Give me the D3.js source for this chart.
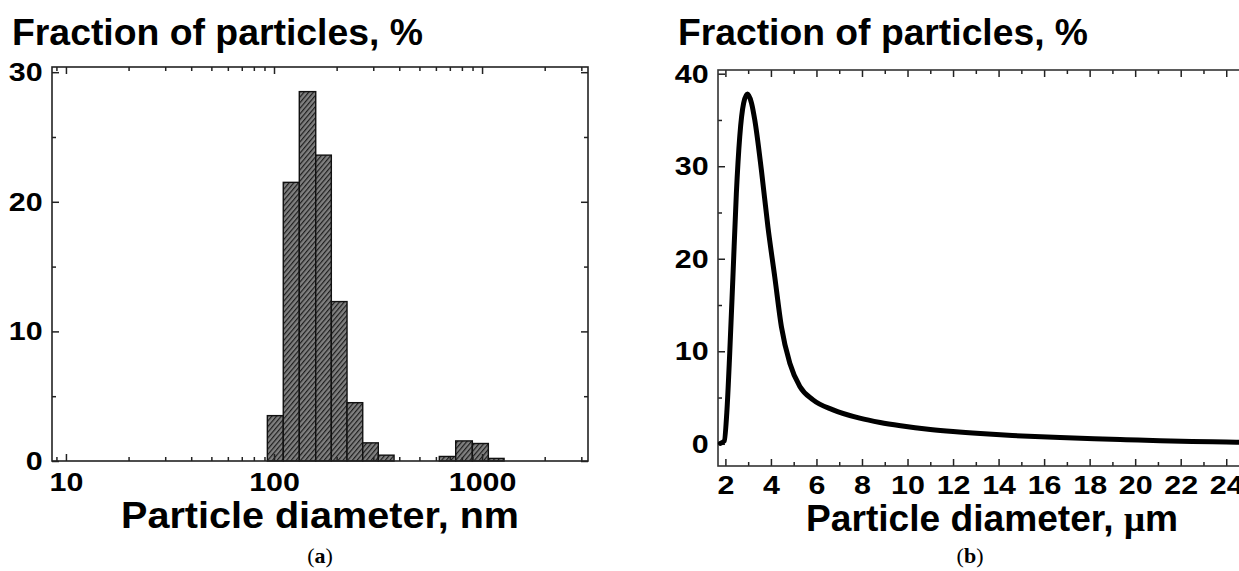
<!DOCTYPE html>
<html>
<head>
<meta charset="utf-8">
<script src="https://cdn.jsdelivr.net/npm/d3@7"></script>
<style>
  body { margin: 0; background: #fff; }
  svg { display: block; }
</style>
</head>
<body>
<div id="chart"></div>
<script>
// (a) histogram, bins in nm
const binStart  = [92.9, 110.8, 132.3, 158.7, 188.6, 224.4, 267.0, 317.2, 526, 623, 747, 898, 1072, 1276];
const binEnd    = [110.8, 132.3, 158.7, 188.6, 224.4, 267.0, 317.2, 377.6, 623, 747, 898, 1072, 1276, 1523];
const fractionA = [3.5, 21.5, 28.5, 23.6, 12.3, 4.5, 1.4, 0.45, 0, 0.35, 1.55, 1.35, 0.2, 0];
const xTicksA = [10, 100, 1000];
const yTicksA = [0, 10, 20, 30];
const yMinorA = [5, 15, 25];

// (b) size distribution, diameter in µm
const diamB = [1.78, 1.95, 2.07, 2.19, 2.33, 2.48, 2.63, 2.8, 2.97, 3.15, 3.29, 3.58, 3.87, 4.17, 4.46, 4.83, 5.27, 5.85, 6.73, 7.9, 8.8, 9.7, 11, 12, 13.2, 14.6, 16.7, 18.2, 19.6, 21.1, 22.5, 24, 25];
const fractionB = [0.05, 0.3, 3.7, 9.8, 18, 27, 33.2, 36.8, 37.8, 36.8, 35, 29.6, 23.4, 18, 12.65, 8.7, 6.2, 4.75, 3.67, 2.77, 2.3, 1.95, 1.55, 1.32, 1.1, 0.9, 0.67, 0.54, 0.44, 0.34, 0.26, 0.19, 0.15];
const xTicksB = [2, 4, 6, 8, 10, 12, 14, 16, 18, 20, 22, 24];
const xMinorB = [3, 5, 7, 9, 11, 13, 15, 17, 19, 21, 23, 25];
const yTicksB = [0, 10, 20, 30, 40];
const yMinorB = [5, 15, 25, 35];

const FONT = "'Liberation Sans', Arial, Helvetica, sans-serif";
const SERIF = "'Liberation Serif', 'Times New Roman', serif";
const STRETCH = 1.17;   // tick labels in the original are drawn wide

const svg = d3.select("#chart").append("svg")
    .attr("width", 1239)
    .attr("height", 571)
    .style("font-family", FONT);

// hatch for the bars
const hatch = svg.append("defs").append("pattern")
    .attr("id", "hatch")
    .attr("patternUnits", "userSpaceOnUse")
    .attr("width", 3.6)
    .attr("height", 3.6)
    .attr("patternTransform", "rotate(40)");
hatch.append("rect").attr("width", 3.6).attr("height", 3.6).attr("fill", "#808080");
hatch.append("line").attr("x1", 0.6).attr("y1", 0).attr("x2", 0.6).attr("y2", 3.6)
    .attr("stroke", "#1a1a1a").attr("stroke-width", 1.15);

function styleAxis(g) {
    g.select(".domain").remove();
    g.selectAll("line").attr("stroke", "#222").attr("stroke-width", 1.5);
    g.selectAll("text")
        .attr("fill", "#000")
        .attr("font-size", 26)
        .attr("font-family", FONT)
        .attr("font-weight", "bold")
        .attr("transform", `scale(${STRETCH},1)`);
}

// ---------- panel (a) ----------
const xA = d3.scaleLog().domain([8.57, 3230]).range([52, 588]);
const yA = d3.scaleLinear().domain([0, 30.4]).range([461, 67]);

const xMinorA = [];
[1, 10, 100, 1000].forEach(p => {
    for (let k = 2; k <= 9; k++) {
        const v = p * k;
        if (v >= xA.domain()[0] && v <= xA.domain()[1]) xMinorA.push(v);
    }
});

const gA = svg.append("g");

gA.selectAll("rect.bar")
    .data(fractionA)
    .enter()
    .append("rect")
    .attr("class", "bar")
    .attr("x", (d, i) => xA(binStart[i]))
    .attr("width", (d, i) => xA(binEnd[i]) - xA(binStart[i]))
    .attr("y", d => yA(d))
    .attr("height", d => yA(0) - yA(d))
    .attr("fill", "url(#hatch)")
    .attr("stroke", "#111")
    .attr("stroke-width", 1.4);

gA.append("g").attr("transform", "translate(0,461)")
    .call(d3.axisBottom(xA).tickValues(xTicksA).tickSize(-7).tickPadding(12).tickFormat(d3.format("d")))
    .call(styleAxis);
gA.append("g").attr("transform", "translate(0,461)")
    .call(d3.axisBottom(xA).tickValues(xMinorA).tickSize(-4).tickFormat(""))
    .call(styleAxis);
gA.append("g").attr("transform", "translate(0,67)")
    .call(d3.axisTop(xA).tickValues(xTicksA).tickSize(-7).tickFormat(""))
    .call(styleAxis);
gA.append("g").attr("transform", "translate(0,67)")
    .call(d3.axisTop(xA).tickValues(xMinorA).tickSize(-4).tickFormat(""))
    .call(styleAxis);

gA.append("g").attr("transform", "translate(52,0)")
    .call(d3.axisLeft(yA).tickValues(yTicksA).tickSize(-7).tickPadding(8))
    .call(styleAxis);
gA.append("g").attr("transform", "translate(52,0)")
    .call(d3.axisLeft(yA).tickValues(yMinorA).tickSize(-4).tickFormat(""))
    .call(styleAxis);
gA.append("g").attr("transform", "translate(588,0)")
    .call(d3.axisRight(yA).tickValues(yTicksA).tickSize(-7).tickFormat(""))
    .call(styleAxis);
gA.append("g").attr("transform", "translate(588,0)")
    .call(d3.axisRight(yA).tickValues(yMinorA).tickSize(-4).tickFormat(""))
    .call(styleAxis);

gA.append("rect")
    .attr("x", 52).attr("y", 67)
    .attr("width", 588 - 52).attr("height", 461 - 67)
    .attr("fill", "none").attr("stroke", "#222").attr("stroke-width", 1.6);

gA.append("text")
    .attr("x", 12).attr("y", 45)
    .attr("font-size", 36).attr("font-weight", "bold")
    .attr("textLength", 411).attr("lengthAdjust", "spacingAndGlyphs")
    .text("Fraction of particles, %");

gA.append("text")
    .attr("x", 320).attr("y", 528)
    .attr("text-anchor", "middle")
    .attr("font-size", 36).attr("font-weight", "bold")
    .attr("textLength", 398).attr("lengthAdjust", "spacingAndGlyphs")
    .text("Particle diameter, nm");

const labA = gA.append("text")
    .attr("x", 320).attr("y", 563)
    .attr("text-anchor", "middle")
    .attr("font-family", SERIF)
    .attr("font-size", 22);
labA.append("tspan").text("(");
labA.append("tspan").attr("font-weight", "bold").text("a");
labA.append("tspan").text(")");

// ---------- panel (b) ----------
const xB = d3.scaleLinear().domain([1.675, 25]).range([718, 1249]);
const yB = d3.scaleLinear().domain([-2.4, 40.4]).range([466, 70]);

const gB = svg.append("g");

gB.append("g").attr("transform", "translate(0,466)")
    .call(d3.axisBottom(xB).tickValues(xTicksB).tickSize(-7).tickPadding(10))
    .call(styleAxis);
gB.append("g").attr("transform", "translate(0,466)")
    .call(d3.axisBottom(xB).tickValues(xMinorB).tickSize(-4).tickFormat(""))
    .call(styleAxis);
gB.append("g").attr("transform", "translate(0,70)")
    .call(d3.axisTop(xB).tickValues(xTicksB).tickSize(-7).tickFormat(""))
    .call(styleAxis);
gB.append("g").attr("transform", "translate(0,70)")
    .call(d3.axisTop(xB).tickValues(xMinorB).tickSize(-4).tickFormat(""))
    .call(styleAxis);

gB.append("g").attr("transform", "translate(718,0)")
    .call(d3.axisLeft(yB).tickValues(yTicksB).tickSize(-7).tickPadding(8))
    .call(styleAxis);
gB.append("g").attr("transform", "translate(718,0)")
    .call(d3.axisLeft(yB).tickValues(yMinorB).tickSize(-4).tickFormat(""))
    .call(styleAxis);

gB.append("rect")
    .attr("x", 718).attr("y", 70)
    .attr("width", 1249 - 718).attr("height", 466 - 70)
    .attr("fill", "none").attr("stroke", "#333").attr("stroke-width", 1.6);

const line = d3.line()
    .x((d, i) => xB(diamB[i]))
    .y(d => yB(d))
    .curve(d3.curveMonotoneX);

gB.append("path")
    .datum(fractionB)
    .attr("d", line)
    .attr("fill", "none")
    .attr("stroke", "#000")
    .attr("stroke-width", 5)
    .attr("stroke-linejoin", "round")
    .attr("stroke-linecap", "round");

gB.append("text")
    .attr("x", 678).attr("y", 45)
    .attr("font-size", 36).attr("font-weight", "bold")
    .attr("textLength", 410).attr("lengthAdjust", "spacingAndGlyphs")
    .text("Fraction of particles, %");

const titleB = gB.append("text")
    .attr("x", 992).attr("y", 531)
    .attr("text-anchor", "middle")
    .attr("font-size", 36).attr("font-weight", "bold")
    .attr("textLength", 372).attr("lengthAdjust", "spacingAndGlyphs");
titleB.append("tspan").text("Particle diameter, ");
titleB.append("tspan").attr("font-family", SERIF).text("μ");
titleB.append("tspan").text("m");

const labB = gB.append("text")
    .attr("x", 970).attr("y", 563)
    .attr("text-anchor", "middle")
    .attr("font-family", SERIF)
    .attr("font-size", 22);
labB.append("tspan").text("(");
labB.append("tspan").attr("font-weight", "bold").text("b");
labB.append("tspan").text(")");
</script>
</body>
</html>
